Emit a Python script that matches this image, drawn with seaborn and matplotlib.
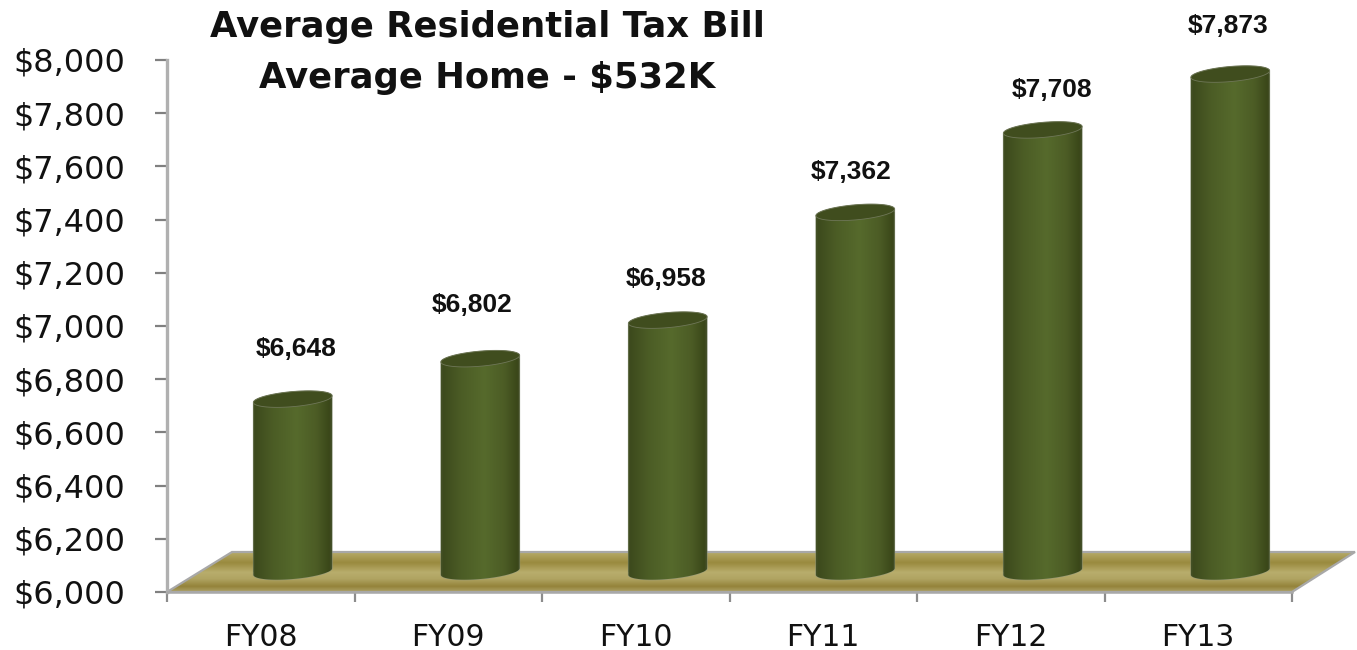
import numpy as np
import matplotlib
matplotlib.use('Agg')
import matplotlib.pyplot as plt
from matplotlib.colors import LinearSegmentedColormap
from matplotlib.patches import Polygon
from matplotlib.transforms import Affine2D, IdentityTransform
import seaborn as sns

years = ['FY08', 'FY09', 'FY10', 'FY11', 'FY12', 'FY13']
# bar heights as drawn in the picture (printed labels are a bit different)
bar_values = [6648, 6800, 6945, 7350, 7660, 7870]
bar_labels = ['$6,648', '$6,802', '$6,958', '$7,362', '$7,708', '$7,873']
y_ticks = [6000, 6200, 6400, 6600, 6800, 7000, 7200, 7400, 7600, 7800, 8000]
y_tick_labels = ['$6,000', '$6,200', '$6,400', '$6,600', '$6,800', '$7,000',
                 '$7,200', '$7,400', '$7,600', '$7,800', '$8,000']
# label offset from the bar top centre, in pixels (placed by hand in the original)
label_dx = [3, -8, -2, -4, 9, -2]
label_dy = [50, 54, 41, 40, 40, 48]

W, H = 1357, 650
DPI = 100

sns.set_style('white')
plt.rcParams['font.family'] = ['DejaVu Sans']

fig = plt.figure(figsize=(W / DPI, H / DPI), dpi=DPI)
ax = fig.add_axes([167 / W, 1 - 592 / H, 1125 / W, 532 / H])

sns.barplot(x=years, y=bar_values, width=0.42, color='#4f6026', saturation=1, ax=ax)
bars = list(ax.patches)
ax.set_ylim(6000, 8000)
ax.set_xlim(-0.5, 5.5)
ax.set_yticks(y_ticks)
ax.set_yticklabels(y_tick_labels, fontsize=23, color='#111111')
ax.set_xticks(range(len(years)))
ax.set_xticklabels(years, fontsize=21.5, color='#111111')
ax.set_xticks(np.arange(-0.5, 6, 1), minor=True)
ax.tick_params(axis='y', length=9, width=1.6, color='#808080', pad=21, left=True)
ax.tick_params(axis='x', which='major', length=0, pad=22)
ax.tick_params(axis='x', which='minor', length=7, width=1.6, color='#8c8c8c', bottom=True)
sns.despine(ax=ax)
ax.spines['left'].set_color('#b0b0b0')
ax.spines['left'].set_linewidth(2.4)
ax.spines['bottom'].set_color('#a8a8a8')
ax.spines['bottom'].set_linewidth(1.8)

# floor of the fake 3d chart
floor = Polygon([(0, 0), (65 / 1125, 40 / 532), (1188 / 1125, 40 / 532), (1, 0)],
                closed=True, transform=ax.transAxes, facecolor='none',
                edgecolor='#a8a8a8', lw=1.6, clip_on=False, zorder=1.5)
ax.add_patch(floor)
floor_cmap = LinearSegmentedColormap.from_list('floor', [
    (0, '#b8ad6c'), (0.28, '#9a8a3e'), (0.52, '#b8ad6c'), (0.68, '#b0a462'),
    (0.87, '#94833a'), (1, '#ada166')])
im = ax.imshow(np.linspace(0, 1, 64).reshape(-1, 1), cmap=floor_cmap, aspect='auto',
               extent=(0, 1.06, 0, 40 / 532), origin='upper',
               transform=ax.transAxes, zorder=1.2)
im.set_clip_box(fig.bbox)
im.set_clip_path(floor)

bar_cmap = LinearSegmentedColormap.from_list('bar', [
    (0, '#47552b'), (0.04, '#3d4a1d'), (0.25, '#4b5c25'), (0.55, '#566a2c'),
    (0.8, '#4c5c25'), (0.96, '#3a4719'), (1, '#4b5633')])

ax.set_xlim(-0.5, 5.5)
ax.set_ylim(6000, 8000)
fig.canvas.draw()
# bars stand back on the floor: 32 px right, 20.5 px up
shift = Affine2D().translate(32, 20.5)
px = IdentityTransform()
t = np.linspace(0, 2 * np.pi, 121)
tilt = np.deg2rad(5)


def ring(cx, cy, a=39.5, b=7.5):
    xs = a * np.cos(t)
    ys = b * np.sin(t)
    return np.c_[cx + xs * np.cos(tilt) - ys * np.sin(tilt),
                 cy + xs * np.sin(tilt) + ys * np.cos(tilt)]


for i, p in enumerate(bars):
    p.set_y(6000)
    p.set_height(bar_values[i] - 6000)
    p.set_transform(ax.transData + shift)
    p.set_edgecolor('none')
    p.set_zorder(2)
    # bar corners in pixels, the cylinder is painted on top of that
    (x0, y0), (x1, y1) = (ax.transData + shift).transform(
        [(p.get_x(), 6000), (p.get_x() + p.get_width(), bar_values[i])])
    cx = (x0 + x1) / 2
    lower = ring(cx, y0)
    upper = ring(cx, y1)
    body = Polygon(np.r_[upper[:61], lower[60:]], closed=True, transform=px,
                   facecolor='none', edgecolor='#8f9680', lw=0.8, alpha=0.7,
                   clip_on=False, zorder=2.1)
    ax.add_patch(body)
    p.set_clip_box(fig.bbox)
    p.set_clip_path(body)
    bar_im = ax.imshow(np.linspace(0, 1, 128).reshape(1, -1), cmap=bar_cmap, aspect='auto',
                       extent=(x0 - 1, x1 + 1, y0 - 12, y1 + 12), transform=px, zorder=2.2)
    bar_im.set_clip_box(fig.bbox)
    bar_im.set_clip_path(body)
    ax.add_patch(Polygon(upper, closed=True, transform=px, facecolor='#404d1e',
                         edgecolor='#6f7758', lw=0.6, clip_on=False, zorder=2.3))
    ax.annotate(bar_labels[i], xy=(cx, y1), xycoords=px,
                xytext=(label_dx[i] * 0.72, label_dy[i] * 0.72), textcoords='offset points',
                ha='center', va='center', fontsize=19, fontweight='bold',
                family=['Liberation Sans'], color='#111111', zorder=5)

ax.set_xlim(-0.5, 5.5)
ax.set_ylim(6000, 8000)

fig.text(487 / W, 1 - 27 / H, 'Average Residential Tax Bill', ha='center', va='center',
         fontsize=25.5, fontweight='bold', color='#111111')
fig.text(487 / W, 1 - 78 / H, 'Average Home - $532K', ha='center', va='center',
         fontsize=25.5, fontweight='bold', color='#111111')

fig.savefig('out.png', dpi=DPI)
